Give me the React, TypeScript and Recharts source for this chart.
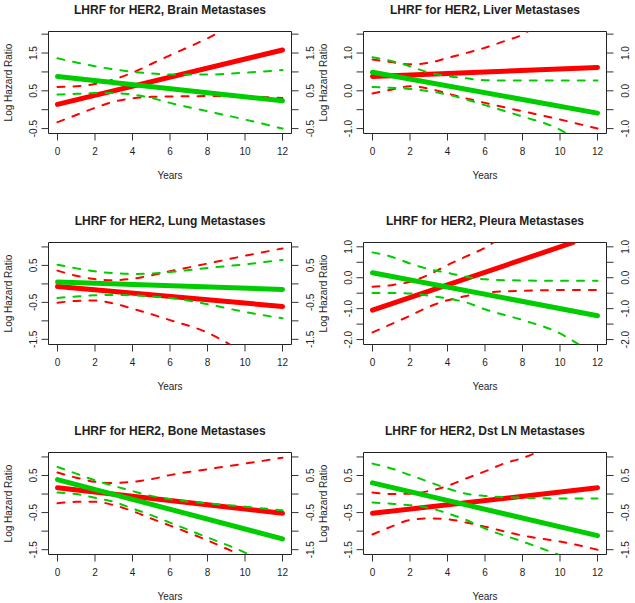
import React from 'react';
import { LineChart, Line, XAxis, YAxis, ReferenceArea } from 'recharts';

type Pt = { x: number; y: number };
const pts = (pairs: number[][]): Pt[] => pairs.map(([x, y]) => ({ x, y }));

// Shared x axis ticks (Years)
const xTicks = [0, 2, 4, 6, 8, 10, 12];

// ---- Brain ----
const brainRedFit = pts([[0, 0.14], [12, 1.58]]);
const brainRedUpper = pts([[0, 0.6], [1, 0.62], [2, 0.68], [3, 0.8], [4, 0.98], [5, 1.21], [6, 1.44], [7, 1.66], [8, 1.89], [8.75, 2.09]]);
const brainRedLower = pts([[0, -0.33], [1, -0.14], [2, 0.05], [3, 0.21], [4, 0.3], [5, 0.34], [6, 0.35], [8, 0.36], [10, 0.35], [12, 0.31]]);
const brainGreenFit = pts([[0, 0.88], [12, 0.235]]);
const brainGreenUpper = pts([[0, 1.36], [1, 1.25], [2, 1.15], [3, 1.07], [4, 1.0], [5, 0.96], [6, 0.93], [8, 0.93], [10, 0.98], [12, 1.05]]);
const brainGreenLower = pts([[0, 0.4], [1, 0.42], [2, 0.44], [3, 0.44], [4, 0.4], [5, 0.31], [6, 0.18], [8, -0.04], [10, -0.26], [12, -0.5]]);

// ---- Liver ----
const liverRedFit = pts([[0, 0.38], [12, 0.62]]);
const liverRedUpper = pts([[0, 0.83], [1, 0.76], [2, 0.7], [3, 0.74], [4, 0.87], [5, 1.0], [6, 1.14], [7, 1.31], [8, 1.49], [8.3, 1.58]]);
const liverRedLower = pts([[0, -0.07], [1, 0.03], [2, 0.12], [3, 0.06], [4, -0.07], [5, -0.2], [6, -0.32], [8, -0.54], [10, -0.76], [12, -1.0]]);
const liverGreenFit = pts([[0, 0.49], [12, -0.59]]);
const liverGreenUpper = pts([[0, 0.89], [1, 0.79], [2, 0.65], [3, 0.48], [4, 0.39], [5, 0.33], [6, 0.28], [8, 0.27], [10, 0.27], [12, 0.27]]);
const liverGreenLower = pts([[0, 0.1], [1, 0.08], [2, 0.05], [3, -0.01], [4, -0.1], [5, -0.23], [6, -0.38], [8, -0.68], [10, -1.03], [10.35, -1.13]]);

// ---- Lung ----
const lungRedFit = pts([[0, -0.07], [12, -0.61]]);
const lungRedUpper = pts([[0, 0.36], [1, 0.22], [2, 0.13], [3, 0.1], [4, 0.14], [5, 0.23], [6, 0.34], [8, 0.55], [10, 0.76], [12, 0.96]]);
const lungRedLower = pts([[0, -0.51], [1, -0.46], [2, -0.45], [3, -0.53], [4, -0.67], [5, -0.82], [6, -0.98], [8, -1.32], [9.2, -1.64]]);
const lungGreenFit = pts([[0, 0.05], [12, -0.15]]);
const lungGreenUpper = pts([[0, 0.52], [1, 0.42], [2, 0.34], [3, 0.29], [4, 0.27], [5, 0.28], [6, 0.32], [8, 0.43], [10, 0.53], [12, 0.65]]);
const lungGreenLower = pts([[0, -0.38], [1, -0.34], [2, -0.31], [3, -0.3], [4, -0.31], [5, -0.34], [6, -0.38], [8, -0.55], [10, -0.76], [12, -0.93]]);

// ---- Pleura ----
const pleuraRedFit = pts([[0, -1.05], [10.7, 1.14]]);
const pleuraRedUpper = pts([[0, -0.29], [1, -0.24], [2, -0.13], [3, 0.1], [4, 0.41], [5, 0.69], [6, 0.97], [6.45, 1.14]]);
const pleuraRedLower = pts([[0, -1.77], [1, -1.5], [2, -1.23], [3, -0.94], [4, -0.73], [5, -0.59], [6, -0.48], [8, -0.42], [10, -0.4], [12, -0.4]]);
const pleuraGreenFit = pts([[0, 0.16], [12, -1.23]]);
const pleuraGreenUpper = pts([[0, 0.82], [1, 0.68], [2, 0.46], [3, 0.28], [4, 0.16], [5, 0.03], [6, -0.05], [8, -0.09], [10, -0.1], [12, -0.1]]);
const pleuraGreenLower = pts([[0, -0.49], [1, -0.49], [2, -0.51], [3, -0.58], [4, -0.67], [5, -0.8], [6, -1.02], [8, -1.37], [10, -1.8], [11, -2.16]]);

// ---- Bone ----
const boneRedFit = pts([[0, 0.17], [12, -0.52]]);
const boneRedUpper = pts([[0, 0.58], [1, 0.44], [2, 0.33], [3, 0.3], [4, 0.33], [5, 0.4], [6, 0.51], [8, 0.67], [10, 0.82], [12, 0.98]]);
const boneRedLower = pts([[0, -0.25], [1, -0.21], [2, -0.21], [3, -0.3], [4, -0.46], [5, -0.66], [6, -0.85], [8, -1.25], [9.7, -1.63]]);
const boneGreenFit = pts([[0, 0.39], [12, -1.21]]);
const boneGreenUpper = pts([[0, 0.73], [1, 0.55], [2, 0.37], [3, 0.22], [4, 0.08], [5, -0.05], [6, -0.14], [8, -0.25], [10, -0.34], [12, -0.44]]);
const boneGreenLower = pts([[0, 0.04], [1, 0.0], [2, -0.1], [3, -0.21], [4, -0.39], [5, -0.57], [6, -0.77], [8, -1.17], [10, -1.58], [10.2, -1.63]]);

// ---- Dst LN ----
const dstRedFit = pts([[0, -0.52], [12, 0.17]]);
const dstRedUpper = pts([[0, 0.04], [1, 0.0], [2, 0.01], [3, 0.08], [4, 0.22], [5, 0.42], [6, 0.61], [7, 0.82], [8, 0.97], [8.75, 1.12]]);
const dstRedLower = pts([[0, -1.09], [1, -0.88], [2, -0.7], [3, -0.66], [4, -0.68], [5, -0.77], [6, -0.88], [8, -1.12], [10, -1.28], [12, -1.5]]);
const dstGreenFit = pts([[0, 0.3], [12, -1.12]]);
const dstGreenUpper = pts([[0, 0.82], [1, 0.69], [2, 0.51], [3, 0.33], [4, 0.15], [5, 0.01], [6, -0.05], [8, -0.1], [10, -0.12], [12, -0.12]]);
const dstGreenLower = pts([[0, -0.23], [1, -0.26], [2, -0.3], [3, -0.37], [4, -0.52], [5, -0.7], [6, -0.93], [8, -1.28], [9.9, -1.63]]);

// y ticks and labelled ticks
const ticksA = [-0.5, 0, 0.5, 1, 1.5, 2];
const labelsA = [-0.5, 0.5, 1.5];
const ticksB = [-1, -0.5, 0, 0.5, 1, 1.5];
const labelsB = [-1, 0, 1];
const ticksC = [-1.5, -1, -0.5, 0, 0.5, 1];
const labelsC = [-1.5, -0.5, 0.5];
const ticksD = [-2, -1.5, -1, -0.5, 0, 0.5, 1];
const labelsD = [-2, -1, 0, 1];

const titles = [
  'LHRF for HER2, Brain Metastases',
  'LHRF for HER2, Liver Metastases',
  'LHRF for HER2, Lung Metastases',
  'LHRF for HER2, Pleura Metastases',
  'LHRF for HER2, Bone Metastases',
  'LHRF for HER2, Dst LN Metastases',
];

const panels = [
  { title: titles[0], domain: [-0.63, 2.07], ticks: ticksA, labels: labelsA, redFit: brainRedFit, redUp: brainRedUpper, redLo: brainRedLower, greenFit: brainGreenFit, greenUp: brainGreenUpper, greenLo: brainGreenLower },
  { title: titles[1], domain: [-1.13, 1.57], ticks: ticksB, labels: labelsB, redFit: liverRedFit, redUp: liverRedUpper, redLo: liverRedLower, greenFit: liverGreenFit, greenUp: liverGreenUpper, greenLo: liverGreenLower },
  { title: titles[2], domain: [-1.64, 1.12], ticks: ticksC, labels: labelsC, redFit: lungRedFit, redUp: lungRedUpper, redLo: lungRedLower, greenFit: lungGreenFit, greenUp: lungGreenUpper, greenLo: lungGreenLower },
  { title: titles[3], domain: [-2.16, 1.14], ticks: ticksD, labels: labelsD, redFit: pleuraRedFit, redUp: pleuraRedUpper, redLo: pleuraRedLower, greenFit: pleuraGreenFit, greenUp: pleuraGreenUpper, greenLo: pleuraGreenLower },
  { title: titles[4], domain: [-1.63, 1.12], ticks: ticksC, labels: labelsC, redFit: boneRedFit, redUp: boneRedUpper, redLo: boneRedLower, greenFit: boneGreenFit, greenUp: boneGreenUpper, greenLo: boneGreenLower },
  { title: titles[5], domain: [-1.63, 1.12], ticks: ticksC, labels: labelsC, redFit: dstRedFit, redUp: dstRedUpper, redLo: dstRedLower, greenFit: dstGreenFit, greenUp: dstGreenUpper, greenLo: dstGreenLower },
];

const W = 317;
const H = 200;
const BOX_L = 48.5;
const BOX_R = 291.5;
const BOX_T = 31.5;
const BOX_B = 133.5;
const X_DOMAIN: [number, number] = [-0.48, 12.48];
const FONT = '"Liberation Sans", Arial, Helvetica, sans-serif';
const TXT = '#1e1e1e';
const RED = '#ff0000';
const GREEN = '#00cd00';

const XTick = (props: any) => {
  const { x, payload } = props;
  return (
    <text x={x} y={BOX_B + 21.5} textAnchor="middle" fontSize={10} fontFamily={FONT} fill={TXT}>
      {payload.value}
    </text>
  );
};

const makeYTick = (labels: number[], bx: number) => (props: any) => {
  const { y, payload } = props;
  const v = payload.value as number;
  if (!labels.some((l) => Math.abs(l - v) < 1e-9)) return <g />;
  return (
    <text
      x={bx}
      y={y}
      transform={`rotate(-90 ${bx} ${y})`}
      textAnchor="middle"
      fontSize={10}
      fontFamily={FONT}
      fill={TXT}
    >
      {v.toFixed(1)}
    </text>
  );
};

const Panel = ({ cfg, left, top }: { cfg: any; left: number; top: number }) => {
  const solid = (data: Pt[], color: string, key: string) => (
    <Line key={key} yAxisId="l" data={data} dataKey="y" type="linear" stroke={color} strokeWidth={5}
      strokeLinecap="round" dot={false} activeDot={false} isAnimationActive={false} />
  );
  const dashed = (data: Pt[], color: string, key: string) => (
    <Line key={key} yAxisId="l" data={data} dataKey="y" type="monotone" stroke={color} strokeWidth={2}
      strokeDasharray="7 9" strokeLinecap="round" dot={false} activeDot={false} isAnimationActive={false} />
  );
  const cx = (BOX_L + BOX_R) / 2;
  const cy = (BOX_T + BOX_B) / 2;
  return (
    <div style={{ position: 'absolute', left, top, width: W, height: H }}>
      <LineChart width={W} height={H} margin={{ top: BOX_T, right: 0, bottom: 0, left: 0 }}>
        <XAxis type="number" dataKey="x" domain={X_DOMAIN} ticks={xTicks} interval={0} allowDataOverflow
          axisLine={false} tickSize={7} tickLine={{ stroke: '#333' }} tick={XTick} height={H - BOX_B} />
        <YAxis yAxisId="l" orientation="left" type="number" width={BOX_L} domain={cfg.domain} ticks={cfg.ticks}
          interval={0} allowDataOverflow axisLine={false} tickSize={7} tickLine={{ stroke: '#333' }}
          tick={makeYTick(cfg.labels, 37)} />
        <YAxis yAxisId="r" orientation="right" type="number" width={W - BOX_R} domain={cfg.domain} ticks={cfg.ticks}
          interval={0} allowDataOverflow axisLine={false} tickSize={7} tickLine={{ stroke: '#333' }}
          tick={makeYTick(cfg.labels, 314)} />
        <ReferenceArea yAxisId="l" x1={X_DOMAIN[0]} x2={X_DOMAIN[1]} y1={cfg.domain[0]} y2={cfg.domain[1]}
          fill="none" fillOpacity={0} stroke="#222" strokeWidth={1} ifOverflow="visible" />
        {solid(cfg.redFit, RED, 'rf')}
        {dashed(cfg.redUp, RED, 'ru')}
        {dashed(cfg.redLo, RED, 'rl')}
        {solid(cfg.greenFit, GREEN, 'gf')}
        {dashed(cfg.greenUp, GREEN, 'gu')}
        {dashed(cfg.greenLo, GREEN, 'gl')}
      </LineChart>
      <svg width={W} height={H} style={{ position: 'absolute', left: 0, top: 0, pointerEvents: 'none' }}>
        <text x={cx} y={13.5} textAnchor="middle" fontSize={12} fontWeight="bold" fontFamily={FONT} fill={TXT}>
          {cfg.title}
        </text>
        <text x={cx} y={178.5} textAnchor="middle" fontSize={10} fontFamily={FONT} fill={TXT}>
          Years
        </text>
        <text x={11.5} y={cy} transform={`rotate(-90 11.5 ${cy})`} textAnchor="middle" fontSize={10}
          fontFamily={FONT} fill={TXT}>
          Log Hazard Ratio
        </text>
      </svg>
    </div>
  );
};

export default function App() {
  return (
    <div style={{ position: 'absolute', left: 0, top: 0, width: 635, height: 603, overflow: 'hidden', background: '#fff' }}>
      {panels.map((cfg, i) => (
        <Panel key={i} cfg={cfg} left={(i % 2) * 315} top={Math.floor(i / 2) * 210.5} />
      ))}
    </div>
  );
}
